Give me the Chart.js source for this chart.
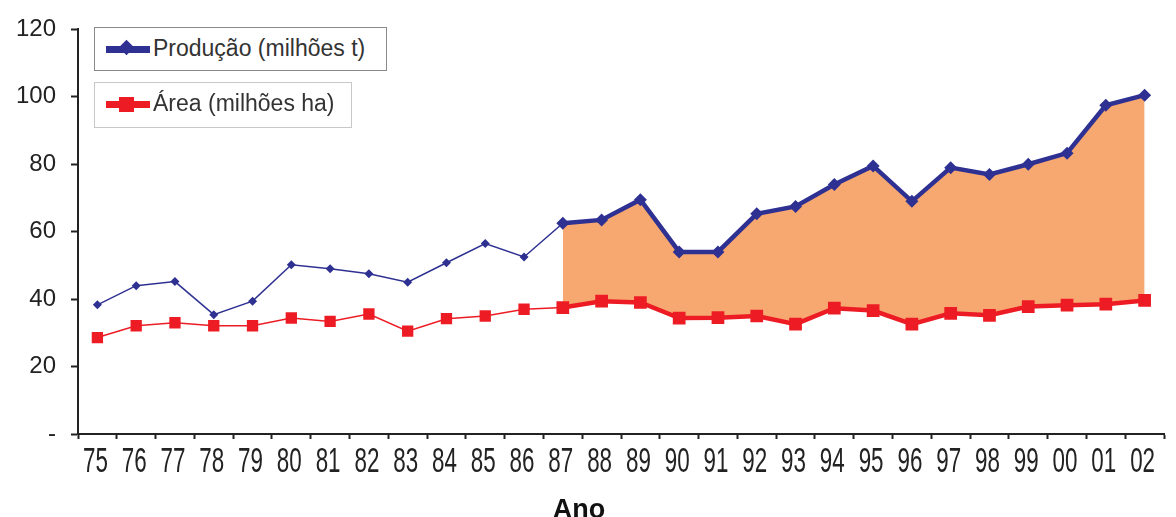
<!DOCTYPE html>
<html>
<head>
<meta charset="utf-8">
<script src="https://cdn.jsdelivr.net/npm/chart.js@4.4.1/dist/chart.umd.min.js"></script>
<style>
  body { margin: 0; background: #fff; }
  #wrap { position: relative; width: 1176px; height: 517px; }
  #grafico { position: absolute; left: 0; top: 0; }
  .leg {
    position: absolute; left: 94px; background: #fff;
    font-family: 'Liberation Sans', Arial, sans-serif; font-size: 23px; color: #333;
    box-sizing: border-box; white-space: nowrap;
  }
  .leg span.txt { position: absolute; left: 58px; top: 7px; }
  .simb { position: absolute; left: 11px; width: 44px; height: 7px; }
  .marca { position: absolute; }
</style>
</head>
<body>
<div id="wrap">
  <canvas id="grafico" width="1176" height="517"></canvas>
  <div class="leg" style="top:27px;width:293px;height:44px;border:1px solid #8a8a8a;">
    <div class="simb" style="top:18px;background:#2e3192;"></div>
    <div class="marca" style="left:26px;top:14px;width:11px;height:11px;background:#2e3192;transform:rotate(45deg);"></div>
    <span class="txt">Produção (milhões t)</span>
  </div>
  <div class="leg" style="top:82px;width:258px;height:46px;border:1px solid #c8c8c8;">
    <div class="simb" style="top:18px;background:#ed1c24;"></div>
    <div class="marca" style="left:24px;top:14px;width:15px;height:15px;background:#ed1c24;"></div>
    <span class="txt">Área (milhões ha)</span>
  </div>
</div>
<script>
const anos = ['75', '76', '77', '78', '79', '80', '81', '82', '83', '84', '85', '86', '87', '88',
    '89', '90', '91', '92', '93', '94', '95', '96', '97', '98', '99', '00', '01', '02'];
const producao = [38.3, 44.0, 45.2, 35.4, 39.4, 50.2, 49.0, 47.5, 45.0, 50.8, 56.5, 52.5, 62.5, 63.5,
    69.5, 54.0, 54.0, 65.3, 67.5, 74.0, 79.5, 69.0, 79.0, 77.0, 80.0, 83.3, 97.5, 100.5];
const area = [28.6, 32.1, 33.0, 32.1, 32.1, 34.4, 33.4, 35.6, 30.5, 34.2, 35.0, 37.0, 37.5, 39.4,
    39.0, 34.4, 34.5, 35.0, 32.6, 37.3, 36.6, 32.6, 35.8, 35.2, 37.8, 38.2, 38.5, 39.6];
const ticksY = [0, 20, 40, 60, 80, 100, 120];
const inicioDestaque = anos.indexOf('87');

const azul = '#2e3192';
const vermelho = '#ed1c24';
const laranja = '#f7a870';

const destaque = ctx => ctx.p0DataIndex >= inicioDestaque;

// rotulos do eixo x em fonte estreita (escala horizontal) + titulo "Ano"
const rotulosX = {
    id: 'rotulosX',
    afterDraw(chart) {
        const c = chart.ctx;
        const sx = chart.scales.x;
        c.save();
        c.fillStyle = '#222';
        c.textAlign = 'center';
        c.textBaseline = 'alphabetic';
        c.font = '35px "Liberation Sans", Arial, sans-serif';
        anos.forEach((a, i) => {
            const x = sx.getPixelForValue(i);
            c.save();
            c.translate(x - 2, 472);
            c.scale(0.64, 1);
            c.fillText(a, 0, 0);
            c.restore();
        });
        c.font = 'bold 27px "Liberation Sans", Arial, sans-serif';
        c.fillStyle = '#111';
        c.fillText('Ano', 579, 518);
        c.restore();
    }
};

Chart.defaults.font.family = "'Liberation Sans', Arial, sans-serif";
Chart.defaults.color = '#222';

new Chart(document.getElementById('grafico').getContext('2d'), {
    type: 'line',
    data: {
        labels: anos,
        datasets: [{
            label: 'Produção (milhões t)',
            data: producao,
            borderColor: azul,
            backgroundColor: laranja,
            pointBackgroundColor: azul,
            pointBorderColor: azul,
            pointStyle: 'rectRot',
            pointRadius: producao.map((v, i) => i >= inicioDestaque ? 6.5 : 4.5),
            pointBorderWidth: 0,
            borderWidth: 1.5,
            tension: 0,
            fill: '+1',
            segment: {
                borderWidth: ctx => destaque(ctx) ? 4.5 : 1.5,
                backgroundColor: ctx => destaque(ctx) ? laranja : 'rgba(0,0,0,0)'
            }
        }, {
            label: 'Área (milhões ha)',
            data: area,
            borderColor: vermelho,
            backgroundColor: vermelho,
            pointBackgroundColor: vermelho,
            pointBorderColor: vermelho,
            pointStyle: 'rect',
            pointRadius: area.map((v, i) => i >= inicioDestaque ? 9 : 8),
            pointBorderWidth: 0,
            borderWidth: 1.5,
            tension: 0,
            fill: false,
            segment: {
                borderWidth: ctx => destaque(ctx) ? 4.5 : 1.5
            }
        }]
    },
    options: {
        responsive: false,
        animation: false,
        layout: { padding: { top: 25, right: 12, left: 0, bottom: 0 } },
        plugins: {
            legend: { display: false },
            tooltip: { enabled: false },
            filler: { drawTime: 'beforeDatasetsDraw' }
        },
        scales: {
            x: {
                offset: true,
                grid: { offset: true, drawOnChartArea: false, tickLength: 5, color: '#222', tickWidth: 2 },
                border: { color: '#222', width: 2 },
                ticks: { display: false, autoSkip: false },
                afterFit: s => { s.height = 83; }
            },
            y: {
                min: 0,
                max: 120,
                afterBuildTicks: s => { s.ticks = ticksY.map(v => ({ value: v })); },
                grid: { drawOnChartArea: false, tickLength: 7, color: '#222', tickWidth: 2 },
                border: { color: '#222', width: 2 },
                ticks: {
                    padding: 15, color: '#222',
                    font: { size: 24 },
                    callback: v => v === 0 ? '-' : v
                },
                afterFit: s => { s.width = 78; }
            }
        }
    },
    plugins: [rotulosX]
});
</script>
</body>
</html>
